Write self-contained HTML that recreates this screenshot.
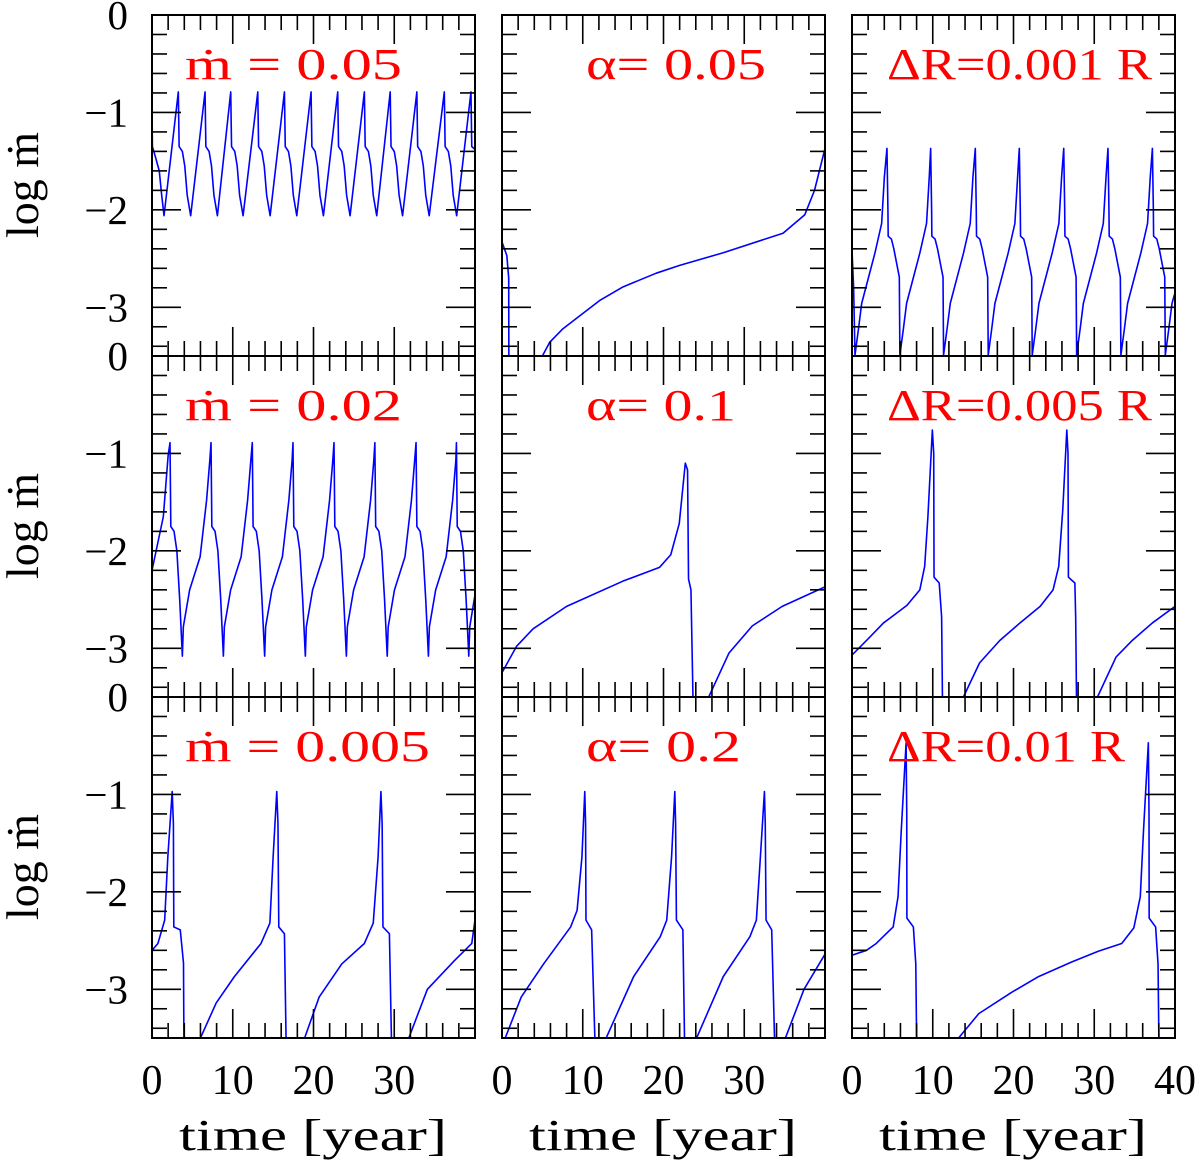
<!DOCTYPE html>
<html><head><meta charset="utf-8"><style>
html,body{margin:0;padding:0;background:#fff;}
svg{display:block;font-family:"Liberation Serif",serif;}
</style></head><body>
<svg id="fig" width="1200" height="1162" viewBox="0 0 1200 1162" xmlns="http://www.w3.org/2000/svg"></svg>
<script>
// ---- data (time in years, log mdot) ----
const p1T=[0,0.05,0.4,0.9,1.2,1.49,3.26,3.36,3.76,4.06,4.36,4.79,6.57,6.67,7.07,7.37,7.67,8.10,9.75,9.85,10.25,10.55,10.85,11.28,13.1,13.2,13.6,13.9,14.2,14.63,16.4,16.5,16.9,17.2,17.5,17.93,19.7,19.8,20.2,20.5,20.8,21.23,23.0,23.1,23.5,23.8,24.1,24.53,26.3,26.4,26.8,27.1,27.4,27.83,29.5,29.6,30.0,30.3,30.6,31.03,32.8,32.9,33.3,33.6,33.9,34.33,36.2,36.3,36.7,37.0,37.3,37.73,39.5,39.6,40];
const p1V=[-0.9,-1.35,-1.45,-1.6,-1.85,-2.06,-0.79,-1.35,-1.40,-1.55,-1.85,-2.06,-0.79,-1.35,-1.40,-1.55,-1.85,-2.06,-0.79,-1.35,-1.40,-1.55,-1.85,-2.06,-0.79,-1.35,-1.40,-1.55,-1.85,-2.06,-0.79,-1.35,-1.40,-1.55,-1.85,-2.06,-0.79,-1.35,-1.40,-1.55,-1.85,-2.06,-0.79,-1.35,-1.40,-1.55,-1.85,-2.06,-0.79,-1.35,-1.40,-1.55,-1.85,-2.06,-0.79,-1.35,-1.40,-1.55,-1.85,-2.06,-0.79,-1.35,-1.40,-1.55,-1.85,-2.06,-0.79,-1.35,-1.40,-1.55,-1.85,-2.06,-0.79,-1.35,-1.38];
const p4T=[0,1.4,2.0,2.23,2.33,2.73,3.08,3.43,3.76,3.88,4.66,5.96,6.76,7.16,7.31,7.41,7.81,8.16,8.51,8.84,8.96,9.74,11.04,11.84,12.24,12.42,12.52,12.92,13.27,13.62,13.95,14.07,14.85,16.15,16.95,17.35,17.46,17.56,17.96,18.31,18.66,18.99,19.11,19.89,21.19,21.99,22.39,22.54,22.64,23.04,23.39,23.74,24.07,24.19,24.97,26.27,27.07,27.47,27.6,27.7,28.1,28.45,28.8,29.13,29.25,30.03,31.33,32.13,32.53,32.7,32.8,33.2,33.55,33.9,34.23,34.35,35.13,36.43,37.23,37.63,37.7,37.8,38.2,38.55,38.9,39.23,39.35,40];
const p4V=[-2.2,-1.65,-1.02,-0.89,-1.75,-1.8,-2.0,-2.5,-3.08,-2.78,-2.4,-2.06,-1.48,-1.07,-0.89,-1.75,-1.8,-2.0,-2.5,-3.08,-2.78,-2.4,-2.06,-1.48,-1.07,-0.89,-1.75,-1.8,-2.0,-2.5,-3.08,-2.78,-2.4,-2.06,-1.48,-1.07,-0.89,-1.75,-1.8,-2.0,-2.5,-3.08,-2.78,-2.4,-2.06,-1.48,-1.07,-0.89,-1.75,-1.8,-2.0,-2.5,-3.08,-2.78,-2.4,-2.06,-1.48,-1.07,-0.89,-1.75,-1.8,-2.0,-2.5,-3.08,-2.78,-2.4,-2.06,-1.48,-1.07,-0.89,-1.75,-1.8,-2.0,-2.5,-3.08,-2.78,-2.4,-2.06,-1.48,-1.07,-0.89,-1.75,-1.8,-2.0,-2.5,-3.08,-2.78,-2.45];
const p7T=[0,0.2,0.37,0.79,1.2,2.85,3.67,4.01,4.33,4.45,4.48,4.88,5.18,5.86,5.93,6.35,6.76,8.41,9.23,9.57,9.74,9.86,9.89,10.29,10.59,11.27,11.34,11.76,12.17,13.82,14.64,14.98,15.27,15.39,15.42,15.82,16.12,16.8,16.87,17.29,17.7,19.35,20.17,20.51,20.72,20.84,20.87,21.27,21.57,22.25,22.32,22.74,23.15,24.8,25.62,25.96,26.22,26.34,26.37,26.77,27.07,27.75,27.82,28.24,28.65,30.3,31.12,31.46,31.7,31.82,31.85,32.25,32.55,33.23,33.3,33.72,34.13,35.78,36.6,36.94,37.2,37.32,37.35,37.75,38.05,38.73,38.8,39.22,39.63,40];
const p7V=[-2.41,-2.8,-3.49,-3.23,-2.96,-2.44,-2.14,-1.66,-1.37,-2.0,-2.27,-2.3,-2.4,-2.69,-3.49,-3.23,-2.96,-2.44,-2.14,-1.66,-1.37,-2.0,-2.27,-2.3,-2.4,-2.69,-3.49,-3.23,-2.96,-2.44,-2.14,-1.66,-1.37,-2.0,-2.27,-2.3,-2.4,-2.69,-3.49,-3.23,-2.96,-2.44,-2.14,-1.66,-1.37,-2.0,-2.27,-2.3,-2.4,-2.69,-3.49,-3.23,-2.96,-2.44,-2.14,-1.66,-1.37,-2.0,-2.27,-2.3,-2.4,-2.69,-3.49,-3.23,-2.96,-2.44,-2.14,-1.66,-1.37,-2.0,-2.27,-2.3,-2.4,-2.69,-3.49,-3.23,-2.96,-2.44,-2.14,-1.66,-1.37,-2.0,-2.27,-2.3,-2.4,-2.69,-3.49,-3.23,-2.96,-2.85];
const p2T=[0,0.6,0.83,0.85,5.0,5.9,7.55,9.6,12.1,15.0,19.1,22.0,27.4,34.8,37.5,38.7,40];
const p2V=[-2.33,-2.47,-2.7,-3.5,-3.5,-3.36,-3.22,-3.09,-2.93,-2.79,-2.65,-2.57,-2.44,-2.24,-2.05,-1.80,-1.37];
const p5T=[0,1.8,3.85,8.0,15.0,19.5,20.9,21.95,22.7,22.98,23.1,23.4,23.65,25.6,28.1,31.0,34.7,40];
const p5V=[-3.25,-2.98,-2.80,-2.57,-2.31,-2.17,-2.04,-1.72,-1.10,-1.17,-2.29,-2.40,-3.5,-3.5,-3.05,-2.77,-2.57,-2.37];
const p8T=[0,1.8,3.9,6.8,8.4,9.0,9.4,9.95,10.12,10.16,10.8,11.1,11.2,13.8,15.8,18.3,20.8,23.3,24.9,25.6,26.1,26.6,26.75,26.8,27.6,27.7,27.8,30.4,32.7,34.7,37.2,40];
const p8V=[-3.07,-2.92,-2.74,-2.56,-2.40,-2.16,-1.65,-0.76,-1.0,-2.27,-2.33,-2.68,-3.5,-3.5,-3.15,-2.92,-2.74,-2.57,-2.40,-2.16,-1.58,-0.76,-1.0,-2.27,-2.33,-2.68,-3.5,-3.5,-3.09,-2.92,-2.74,-2.57];
const p9T=[0,1.8,3.0,5.1,5.7,6.1,6.7,6.78,6.8,7.6,7.9,8.0,13.2,15.7,19.8,23.1,27.2,30.5,33.4,34.9,35.7,36.1,36.7,36.78,36.8,37.6,37.9,38.0,40];
const p9V=[-2.65,-2.60,-2.53,-2.36,-2.05,-1.37,-0.47,-1.2,-2.27,-2.36,-2.74,-3.5,-3.5,-3.25,-3.03,-2.87,-2.72,-2.61,-2.53,-2.37,-2.05,-1.37,-0.47,-1.2,-2.27,-2.36,-2.74,-3.5,-3.5];
const p3T=[0,0.73,1.57,1.96,2.5,2.65,2.7,3.5,3.9,3.95,6.0,7.95,10.2,13.5,14.6,15.0,15.45,15.6,15.7,16.4,16.6,18.9,20.7,23.5,26.3,27.4,28.0,28.35,28.5,28.6,29.4,29.65,31.8,34.1,37.4,39.6,40];
const p3V=[-2.60,-2.53,-2.29,-1.64,-0.97,-1.3,-2.36,-2.39,-2.73,-3.5,-3.5,-3.14,-2.87,-2.53,-2.32,-1.64,-0.97,-1.3,-2.36,-2.43,-3.5,-3.5,-3.08,-2.74,-2.53,-2.32,-1.64,-0.97,-1.3,-2.36,-2.43,-3.5,-3.5,-3.0,-2.71,-2.53,-2.29];
const p6T=[0,0.4,2.38,5.15,8.5,9.3,9.9,10.25,10.35,10.4,11.1,11.5,12.9,16.3,19.6,20.4,21.0,21.4,21.5,21.6,22.4,22.6,24.1,27.4,30.7,31.5,32.0,32.5,32.6,32.7,33.4,33.75,35.1,37.4,40];
const p6V=[-3.5,-3.5,-3.08,-2.74,-2.36,-2.19,-1.64,-0.97,-1.3,-2.29,-2.39,-3.5,-3.5,-2.87,-2.46,-2.29,-1.64,-0.97,-1.3,-2.29,-2.39,-3.5,-3.5,-2.87,-2.46,-2.29,-1.64,-0.97,-1.3,-2.29,-2.39,-3.5,-3.5,-3.0,-2.64];
const panelLabels=[["ṁ  =  0.05","α=  0.05","ΔR=0.001  R"],["ṁ  =  0.02","α=  0.1","ΔR=0.005  R"],["ṁ  =  0.005","α=  0.2","ΔR=0.01  R"]];
const labelWidths=[[217,180,265],[217,150,265],[245,155,238]];
const xTickLabels=["0","10","20","30","40"];
const yTickLabels=["0","−1","−2","−3"];

// ---- layout ----
const NS="http://www.w3.org/2000/svg";
const svg=document.getElementById('fig');
const colX=[152,502,852], rowY=[15,356,697], W=323, H=341;
const XMIN=0,XMAX=40,YMIN=-3.5,YMAX=0;
function mk(tag,attrs,parent){const e=document.createElementNS(NS,tag);for(const k in attrs)e.setAttribute(k,attrs[k]);(parent||svg).appendChild(e);return e;}
function xs(c,t){return colX[c]+(t-XMIN)/(XMAX-XMIN)*W;}
function ys(r,v){return rowY[r]+(YMAX-v)/(YMAX-YMIN)*H;}
const series=[[[p1T,p1V],[p2T,p2V],[p7T,p7V]],[[p4T,p4V],[p5T,p5V],[p8T,p8V]],[[p3T,p3V],[p6T,p6V],[p9T,p9V]]];

const defs=mk('defs',{});
for(let r=0;r<3;r++)for(let c=0;c<3;c++){
  const x0=colX[c],y0=rowY[r];
  const g=mk('g',{});
  
  
  const cp=mk('clipPath',{id:'cp'+r+c},defs);
  mk('rect',{x:x0,y:y0,width:W,height:H},cp);
  const [T,V]=series[r][c];
  const pts=T.map((t,i)=>xs(c,t).toFixed(2)+','+ys(r,V[i]).toFixed(2)).join(' ');
  const pl=mk('polyline',{points:pts,fill:'none',stroke:'#0000ff','stroke-width':1.6,'stroke-linejoin':'round','clip-path':'url(#cp'+r+c+')'},g);
  
  
  const tk=mk('g',{stroke:'#000','stroke-width':1.6},g);
  
  
  for(let t=2;t<40;t+=2){
    const L=(t%10===0)?29:15, X=xs(c,t);
    mk('line',{x1:X,y1:y0,x2:X,y2:y0+L},tk);
    mk('line',{x1:X,y1:y0+H,x2:X,y2:y0+H-L},tk);
  }
  for(let k=1;k<17.5;k++){
    const v=-k*0.2; if(v<=-3.5)break;
    const L=(k%5===0)?29:15, Y=ys(r,v);
    mk('line',{x1:x0,y1:Y,x2:x0+L,y2:Y},tk);
    mk('line',{x1:x0+W,y1:Y,x2:x0+W-L,y2:Y},tk);
  }
  const fr=mk('rect',{x:x0,y:y0,width:W,height:H,fill:'none',stroke:'#000','stroke-width':2},g);
  
  
  const lb=mk('text',{x:x0+33+(c===1?51:0)+(c===2?2:0),y:y0+64,'font-size':44,fill:'#ff0000',textLength:labelWidths[r][c],lengthAdjust:'spacingAndGlyphs'},g);
  lb.textContent=panelLabels[r][c];
  
  
}
for(let r=0;r<3;r++){
  for(let i=0;i<yTickLabels.length;i++){
    const tx=mk('text',{x:128,y:ys(r,-i)+14,'font-size':41,'text-anchor':'end',fill:'#000'});
    tx.textContent=yTickLabels[i];
    
    
  }
  const yt=mk('text',{x:0,y:0,'font-size':46,'text-anchor':'middle',fill:'#000',transform:'translate(38,'+(rowY[r]+170)+') rotate(-90)'});
  yt.textContent='log ṁ';
  
  
}
for(let c=0;c<3;c++){
  for(let i=0;i<xTickLabels.length;i++){
    if(i===4&&c<2)continue;
    const tx=mk('text',{x:xs(c,i*10),y:1094,'font-size':42,'text-anchor':'middle',fill:'#000'});
    tx.textContent=xTickLabels[i];
    
    
  }
  const xt=mk('text',{x:colX[c]+161,y:1150,'font-size':44,'text-anchor':'middle',fill:'#000',textLength:268,lengthAdjust:'spacingAndGlyphs'});
  xt.textContent='time [year]';
  
  
}
</script>
</body></html>
